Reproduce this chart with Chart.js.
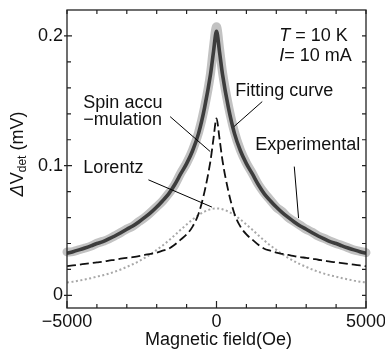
<!DOCTYPE html>
<html><head><meta charset="utf-8">
<script src="https://cdn.jsdelivr.net/npm/chart.js@4.4.0/dist/chart.umd.min.js"></script>
<style>html,body{margin:0;padding:0;background:#fff}#wrap{width:385px;height:351px;position:relative}</style>
</head><body><div id="wrap"><canvas id="c"></canvas></div>
<script>
// ---- data ----
const fieldOe = [-5000,-4800,-4600,-4400,-4200,-4000,-3800,-3600,-3400,-3200,-3000,-2800,-2600,-2400,-2200,-2000,-1800,-1600,-1400,-1200,-1000,-800,-600,-400,-200,-100,0,100,200,400,600,800,1000,1200,1400,1600,1800,2000,2200,2400,2600,2800,3000,3200,3400,3600,3800,4000,4200,4400,4600,4800,5000];
const experimental = [0.0335,0.0338,0.0352,0.0365,0.0380,0.0402,0.0417,0.0435,0.0460,0.0485,0.0512,0.0533,0.0568,0.0600,0.0640,0.0683,0.0728,0.0785,0.0850,0.0940,0.1020,0.1120,0.1255,0.1450,0.1710,0.1915,0.2070,0.1905,0.1720,0.1460,0.1260,0.1120,0.1020,0.0940,0.0855,0.0790,0.0735,0.0680,0.0645,0.0600,0.0570,0.0540,0.0510,0.0487,0.0458,0.0440,0.0418,0.0400,0.0385,0.0368,0.0350,0.0340,0.0330];
const fittingCurve = [0.0325,0.0337,0.0351,0.0366,0.0382,0.0400,0.0415,0.0436,0.0458,0.0483,0.0510,0.0535,0.0566,0.0601,0.0638,0.0681,0.0730,0.0783,0.0853,0.0936,0.1016,0.1115,0.1249,0.1446,0.1704,0.1879,0.2035,0.1879,0.1704,0.1446,0.1249,0.1115,0.1016,0.0936,0.0853,0.0783,0.0730,0.0681,0.0638,0.0601,0.0566,0.0535,0.0510,0.0483,0.0458,0.0436,0.0415,0.0400,0.0382,0.0366,0.0351,0.0337,0.0325];
const spinAccumulation = [0.0225,0.0231,0.0237,0.0243,0.0249,0.0255,0.0260,0.0268,0.0275,0.0283,0.0290,0.0295,0.0303,0.0312,0.0320,0.0330,0.0345,0.0360,0.0390,0.0430,0.0470,0.0530,0.0630,0.0800,0.1040,0.1210,0.1365,0.1210,0.1040,0.0800,0.0630,0.0530,0.0470,0.0430,0.0390,0.0360,0.0345,0.0330,0.0320,0.0312,0.0303,0.0295,0.0290,0.0283,0.0275,0.0268,0.0260,0.0255,0.0249,0.0243,0.0237,0.0231,0.0225];
const lorentz = [0.0100,0.0106,0.0114,0.0123,0.0133,0.0145,0.0155,0.0168,0.0183,0.0200,0.0220,0.0240,0.0263,0.0289,0.0318,0.0351,0.0385,0.0423,0.0463,0.0506,0.0546,0.0585,0.0619,0.0646,0.0664,0.0669,0.0670,0.0669,0.0664,0.0646,0.0619,0.0585,0.0546,0.0506,0.0463,0.0423,0.0385,0.0351,0.0318,0.0289,0.0263,0.0240,0.0220,0.0200,0.0183,0.0168,0.0155,0.0145,0.0133,0.0123,0.0114,0.0106,0.0100];
const xTickLabels = [-5000, 0, 5000];
const xMinorTicks = [-4000,-3000,-2000,-1000,1000,2000,3000,4000];
const yTickLabels = [0, 0.1, 0.2];
const yMinorTicks = [0.02,0.04,0.06,0.08,0.12,0.14,0.16,0.18];
const xTitle = 'Magnetic field(Oe)';

// ---- annotations (text & leader lines, in data units) ----
const notes = [
  {parts:[{t:'Spin accu'}], x:-4453, y:0.1480, align:'left'},
  {parts:[{t:'\u2212mulation'}], x:-4453, y:0.1353, align:'left'},
  {parts:[{t:'Lorentz'}], x:-4453, y:0.0983, align:'left'},
  {parts:[{t:'Fitting curve'}], x:626, y:0.1576, align:'left'},
  {parts:[{t:'Experimental'}], x:1296, y:0.1161, align:'left'},
  {parts:[{t:'T',i:true},{t:' = 10 K'}], x:2099, y:0.2003, align:'left'},
  {parts:[{t:'I',i:true},{t:'= 10 mA'}], x:2099, y:0.1847, align:'left'}
];
const leaders = [
  [-1550,0.1378,-211,0.1109],
  [1530,0.1494,582,0.1301],
  [-2277,0.0891,-154,0.0681],
  [2601,0.0993,2745,0.0596]
];

const FONT = '"Liberation Sans", Arial, Helvetica, sans-serif';
const pts = arr => fieldOe.map((x,i)=>({x:x, y:arr[i]}));
const fmtX = v => (v<0 ? '\u2212' + Math.abs(v) : String(v));

function drawParts(ctx, parts, x, y, align, size){
  let w = 0;
  parts.forEach(p=>{ ctx.font = (p.i?'italic ':'') + size + 'px ' + FONT; p.w = ctx.measureText(p.t).width; w += p.w; });
  let cx = align==='right' ? x - w : (align==='center' ? x - w/2 : x);
  parts.forEach(p=>{ ctx.font = (p.i?'italic ':'') + size + 'px ' + FONT; ctx.fillText(p.t, cx, y); cx += p.w; });
}

const decor = {
  id:'decor',
  afterDatasetsDraw(chart){
    const ctx = chart.ctx, a = chart.chartArea, xs = chart.scales.x, ys = chart.scales.y;
    ctx.save();
    ctx.strokeStyle = '#222'; ctx.lineWidth = 1.3;
    ctx.strokeRect(a.left, a.top, a.right-a.left, a.bottom-a.top);
    ctx.lineWidth = 1.2;
    ctx.beginPath();
    xMinorTicks.forEach(v=>{ const p = xs.getPixelForValue(v);
      ctx.moveTo(p, a.bottom); ctx.lineTo(p, a.bottom-4);
      ctx.moveTo(p, a.top); ctx.lineTo(p, a.top+4); });
    xTickLabels.forEach(v=>{ const p = xs.getPixelForValue(v);
      ctx.moveTo(p, a.bottom); ctx.lineTo(p, a.bottom-7);
      ctx.moveTo(p, a.top); ctx.lineTo(p, a.top+4); });
    yMinorTicks.forEach(v=>{ const p = ys.getPixelForValue(v);
      ctx.moveTo(a.left, p); ctx.lineTo(a.left+4, p);
      ctx.moveTo(a.right, p); ctx.lineTo(a.right-4, p); });
    yTickLabels.forEach(v=>{ const p = ys.getPixelForValue(v);
      ctx.moveTo(a.left-3, p); ctx.lineTo(a.left+5, p);
      ctx.moveTo(a.right, p); ctx.lineTo(a.right-4, p); });
    ctx.stroke();
    // leader lines
    ctx.strokeStyle = '#000'; ctx.lineWidth = 1;
    ctx.beginPath();
    leaders.forEach(l=>{ ctx.moveTo(xs.getPixelForValue(l[0]), ys.getPixelForValue(l[1]));
      ctx.lineTo(xs.getPixelForValue(l[2]), ys.getPixelForValue(l[3])); });
    ctx.stroke();
    // annotation text
    ctx.fillStyle = '#111'; ctx.textBaseline = 'middle';
    notes.forEach(n=> drawParts(ctx, n.parts, xs.getPixelForValue(n.x), ys.getPixelForValue(n.y), n.align, 18));
    // x title
    ctx.textAlign = 'left';
    drawParts(ctx, [{t:xTitle}], (a.left+a.right)/2 + 2, 340, 'center', 18);
    // y title (rotated)
    ctx.translate(18, (a.top+a.bottom)/2 - 5);
    ctx.rotate(-Math.PI/2);
    ctx.font = 'italic 18px ' + FONT;
    const w1 = ctx.measureText('\u0394').width;
    ctx.font = '18px ' + FONT;
    const w2 = ctx.measureText('V').width;
    ctx.font = '12px ' + FONT;
    const w3 = ctx.measureText('det').width;
    ctx.font = '18px ' + FONT;
    const w4 = ctx.measureText(' (mV)').width;
    let cx = -(w1+w2+w3+w4)/2;
    ctx.font = 'italic 18px ' + FONT; ctx.fillText('\u0394', cx, 0); cx += w1;
    ctx.font = '18px ' + FONT; ctx.fillText('V', cx, 0); cx += w2;
    ctx.font = '12px ' + FONT; ctx.fillText('det', cx, 5); cx += w3;
    ctx.font = '18px ' + FONT; ctx.fillText(' (mV)', cx, 0);
    ctx.restore();
  }
};

const lineBase = {pointRadius:0, pointHoverRadius:0, cubicInterpolationMode:'monotone', fill:false};
new Chart(document.getElementById('c'), {
  type:'line',
  data:{datasets:[
    Object.assign({label:'Fitting curve', data:pts(fittingCurve), borderColor:'#3d3d3d', borderWidth:3.6}, lineBase),
    Object.assign({label:'Experimental', data:pts(experimental), borderColor:'#c2c2c2', borderWidth:9, borderCapStyle:'round', borderJoinStyle:'round', clip:false}, lineBase),
    Object.assign({label:'Spin accumulation', data:pts(spinAccumulation), borderColor:'#111', borderWidth:1.8, borderDash:[9,4]}, lineBase),
    Object.assign({label:'Lorentz', data:pts(lorentz), borderColor:'#a8a8a8', borderWidth:2, borderDash:[2,2.5]}, lineBase)
  ]},
  options:{
    responsive:true, maintainAspectRatio:false, animation:false, devicePixelRatio:1,
    layout:{padding:{top:10, right:19, left:0, bottom:0}},
    plugins:{legend:{display:false}, tooltip:{enabled:false}},
    scales:{
      x:{type:'linear', min:-5000, max:5000,
        grid:{display:false, drawTicks:false}, border:{display:false},
        afterBuildTicks:s=>{ s.ticks = xTickLabels.map(v=>({value:v})); },
        afterFit:s=>{ s.height = 43; s.paddingLeft = 0; s.paddingRight = 0; },
        ticks:{autoSkip:false, maxRotation:0, padding:3, color:'#111', font:{family:FONT, size:18}, callback:v=>fmtX(v)}},
      y:{type:'linear', min:-0.0097, max:0.22,
        grid:{display:false, drawTicks:false}, border:{display:false},
        afterBuildTicks:s=>{ s.ticks = yTickLabels.map(v=>({value:v})); },
        afterFit:s=>{ s.width = 67; s.paddingTop = 0; s.paddingBottom = 0; },
        ticks:{autoSkip:false, padding:4, color:'#111', font:{family:FONT, size:18}, callback:v=>String(v)}}
    }
  },
  plugins:[decor]
});
</script></body></html>
